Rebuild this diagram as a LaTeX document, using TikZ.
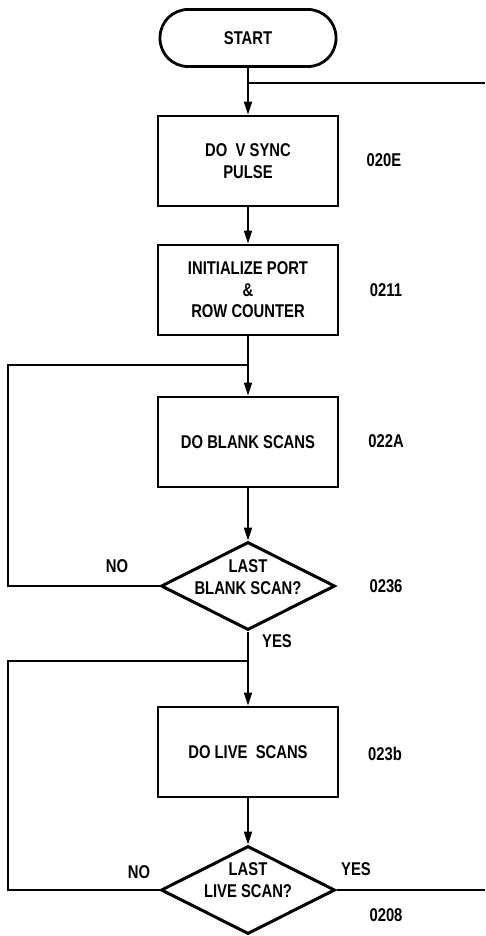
\documentclass[tikz,border=0pt]{standalone}
\usepackage{fontspec}
\setmainfont{Liberation Sans}[FakeStretch=0.8]
\usetikzlibrary{arrows.meta,shapes.geometric}
\begin{document}
\begin{tikzpicture}[x=1pt,y=-1pt,
  txt/.style={font=\fontsize{18.5}{21.5}\selectfont\bfseries,align=center,inner sep=0pt},
  stepbox/.style={txt,draw,line width=2.8pt,minimum width=180pt,minimum height=90pt},
  term/.style={txt,draw,line width=2.8pt,minimum width=176pt,minimum height=57pt,rounded corners=28pt},
  dia/.style={draw,diamond,line width=3pt,minimum width=174pt,minimum height=88pt,inner sep=0pt},
  conn/.style={line width=1.9pt},
  arr/.style={conn,-{Triangle[length=13pt,width=8pt]}}]
\useasboundingbox (0,0) rectangle (485,936);
% nodes
\node[term] (start) at (248,38) {START};
\node[stepbox] (b1) at (248,161) {DO~~V SYNC\\PULSE};
\node[txt] (l1) at (384,160) {020E};
\node[stepbox] (b2) at (248,290) {INITIALIZE PORT\\\&\\ROW COUNTER};
\node[txt] (l2) at (386,290) {0211};
\node[stepbox] (b3) at (248,442) {DO BLANK SCANS};
\node[txt] (l3) at (386,441) {022A};
\node[dia] (d1) at (248,586) {};
\node[txt] (d1t) at (248,577) {LAST\\BLANK SCAN?};
\node[txt] (l4) at (386,586) {0236};
\node[txt] (no1) at (117,566) {NO};
\node[txt] (yes1) at (277,641) {YES};
\node[stepbox] (b4) at (248,752) {DO LIVE~ SCANS};
\node[txt] (l5) at (385,754) {023b};
\node[dia] (d2) at (248,890) {};
\node[txt] (d2t) at (248,880) {LAST\\LIVE SCAN?};
\node[txt] (no2) at (139,872) {NO};
\node[txt] (yes2) at (356,869) {YES};
\node[txt] (l6) at (386,915) {0208};
% junctions
\coordinate (j1) at (248,83);
\coordinate (r1) at (485,83);
\coordinate (j2) at (248,365);
\coordinate (la) at (8,365);
\coordinate (lb) at (8,586);
\coordinate (j3) at (248,661);
\coordinate (lc) at (8,661);
\coordinate (ld) at (8,890);
\coordinate (r2) at (485,890);
% connectors
\draw[conn] (start.south) -- (j1);
\draw[arr] (j1) -- (b1.north);
\draw[conn] (j1) -- (r1);
\draw[arr] (b1.south) -- (b2.north);
\draw[conn] (b2.south) -- (j2);
\draw[arr] (j2) -- (b3.north);
\draw[arr] (b3.south) -- (d1.north);
\draw[conn] (d1.west) -- (lb) -- (la) -- (j2);
\draw[conn] (d1.south) -- (j3);
\draw[arr] (j3) -- (b4.north);
\draw[arr] (b4.south) -- (d2.north);
\draw[conn] (d2.west) -- (ld) -- (lc) -- (j3);
\draw[conn] (d2.east) -- (r2);
\end{tikzpicture}
\end{document}
